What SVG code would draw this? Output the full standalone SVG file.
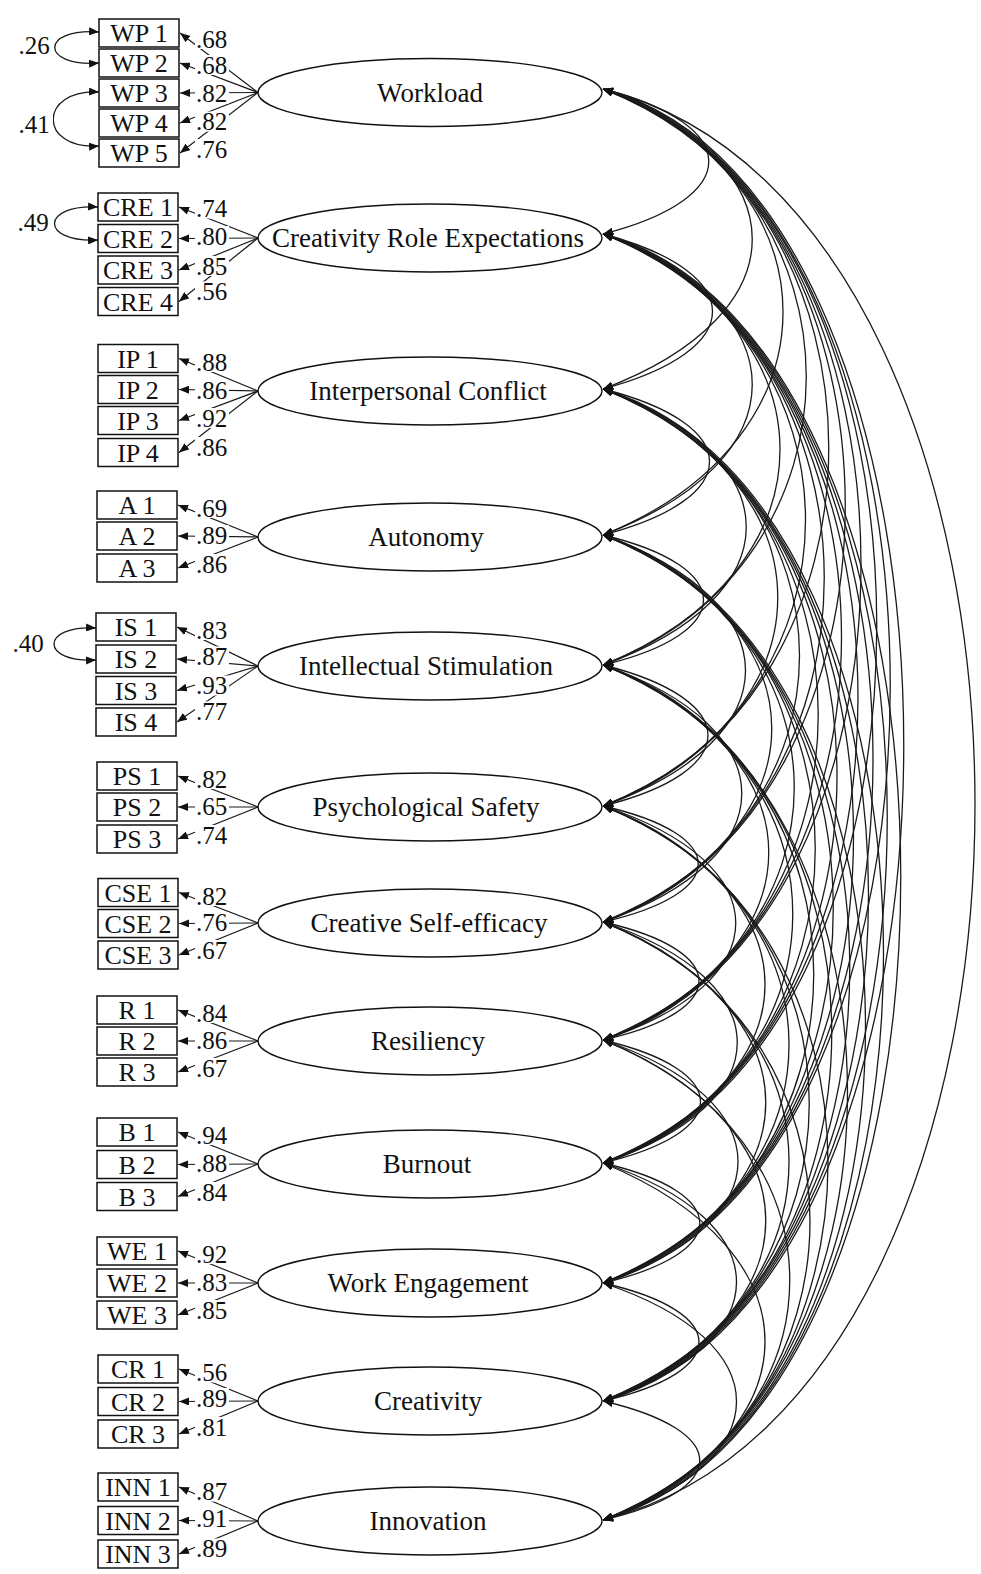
<svg xmlns="http://www.w3.org/2000/svg" width="981" height="1574" viewBox="0 0 981 1574">
  <defs>
    <marker id="ah" viewBox="0 0 10 8" refX="10" refY="4" markerWidth="10" markerHeight="8" markerUnits="userSpaceOnUse" orient="auto-start-reverse">
      <path d="M0,0 L10,4 L0,8 Z" fill="#111"/>
    </marker>
  </defs>
  <style>
    text { font-family: "Liberation Serif", "Times New Roman", serif; fill: #111; }
    .lat { font-size: 27px; text-anchor: middle; }
    .obs { font-size: 26px; text-anchor: middle; }
    .coef { font-size: 25px; }
    .lv { fill: #fff; stroke: #111; stroke-width: 1.4; }
    .ov { fill: #fff; stroke: #111; stroke-width: 1.5; }
    .cov { fill: none; stroke: #1a1a1a; stroke-width: 1.3; marker-start: url(#ah); marker-end: url(#ah); }
    .load { fill: none; stroke: #1a1a1a; stroke-width: 1.2; marker-end: url(#ah); }
    .bg { fill: #fff; }
  </style>
  <rect width="981" height="1574" fill="#fff"/>

  <!-- connectors: factor covariances, loadings, error covariances -->
  <g id="connectors">
    <g id="factor-covariances">
      <path class="cov" d="M603,89 C744,125 744,198 603,234"/>
      <path class="cov" d="M603,89 C802,164 802,314 603,389"/>
      <path class="cov" d="M603,89 C843,185 843,439 603,535"/>
      <path class="cov" d="M603,89 C874,192 874,562 603,665"/>
      <path class="cov" d="M603,89 C904,197 904,698 603,806"/>
      <path class="cov" d="M603,89 C926,199 926,812 603,922"/>
      <path class="cov" d="M603,89 C947,200 947,929 603,1040"/>
      <path class="cov" d="M603,89 C968,200 968,1052 603,1163"/>
      <path class="cov" d="M603,89 C986,199 986,1173 603,1283"/>
      <path class="cov" d="M603,89 C1004,196 1004,1294 603,1401"/>
      <path class="cov" d="M603,89 C1099,213 1099,1396 603,1520"/>

      <path class="cov" d="M603,234 C749,273 749,350 603,389"/>
      <path class="cov" d="M603,234 C802,309 802,460 603,535"/>
      <path class="cov" d="M603,234 C839,329 839,570 603,665"/>
      <path class="cov" d="M603,234 C873,337 873,703 603,806"/>
      <path class="cov" d="M603,234 C898,341 898,815 603,922"/>
      <path class="cov" d="M603,234 C921,344 921,930 603,1040"/>
      <path class="cov" d="M603,234 C943,345 943,1052 603,1163"/>
      <path class="cov" d="M603,234 C963,345 963,1172 603,1283"/>
      <path class="cov" d="M603,234 C982,344 982,1291 603,1401"/>
      <path class="cov" d="M603,234 C1000,342 1000,1412 603,1520"/>

      <path class="cov" d="M603,389 C745,425 745,498 603,535"/>
      <path class="cov" d="M603,389 C794,458 794,596 603,665"/>
      <path class="cov" d="M603,389 C836,483 836,712 603,806"/>
      <path class="cov" d="M603,389 C865,490 865,821 603,922"/>
      <path class="cov" d="M603,389 C890,495 890,934 603,1040"/>
      <path class="cov" d="M603,389 C915,498 915,1054 603,1163"/>
      <path class="cov" d="M603,389 C937,500 937,1172 603,1283"/>
      <path class="cov" d="M603,389 C957,500 957,1290 603,1401"/>
      <path class="cov" d="M603,389 C977,499 977,1410 603,1520"/>

      <path class="cov" d="M603,535 C737,567 737,633 603,665"/>
      <path class="cov" d="M603,535 C793,603 793,738 603,806"/>
      <path class="cov" d="M603,535 C828,627 828,830 603,922"/>
      <path class="cov" d="M603,535 C858,635 858,940 603,1040"/>
      <path class="cov" d="M603,535 C886,640 886,1058 603,1163"/>
      <path class="cov" d="M603,535 C910,644 910,1174 603,1283"/>
      <path class="cov" d="M603,535 C932,646 932,1290 603,1401"/>
      <path class="cov" d="M603,535 C953,646 953,1409 603,1520"/>

      <path class="cov" d="M603,665 C743,700 743,771 603,806"/>
      <path class="cov" d="M603,665 C788,729 788,858 603,922"/>
      <path class="cov" d="M603,665 C824,756 824,949 603,1040"/>
      <path class="cov" d="M603,665 C856,764 856,1064 603,1163"/>
      <path class="cov" d="M603,665 C884,770 884,1178 603,1283"/>
      <path class="cov" d="M603,665 C908,773 908,1293 603,1401"/>
      <path class="cov" d="M603,665 C929,775 929,1410 603,1520"/>

      <path class="cov" d="M603,806 C730,835 730,893 603,922"/>
      <path class="cov" d="M603,806 C780,864 780,982 603,1040"/>
      <path class="cov" d="M603,806 C819,895 819,1074 603,1163"/>
      <path class="cov" d="M603,806 C851,904 851,1185 603,1283"/>
      <path class="cov" d="M603,806 C878,910 878,1297 603,1401"/>
      <path class="cov" d="M603,806 C903,914 903,1412 603,1520"/>

      <path class="cov" d="M603,922 C731,951 731,1011 603,1040"/>
      <path class="cov" d="M603,922 C782,982 782,1103 603,1163"/>
      <path class="cov" d="M603,922 C820,1012 820,1193 603,1283"/>
      <path class="cov" d="M603,922 C851,1020 851,1303 603,1401"/>
      <path class="cov" d="M603,922 C879,1026 879,1416 603,1520"/>

      <path class="cov" d="M603,1040 C733,1071 733,1132 603,1163"/>
      <path class="cov" d="M603,1040 C783,1101 783,1222 603,1283"/>
      <path class="cov" d="M603,1040 C820,1130 820,1311 603,1401"/>
      <path class="cov" d="M603,1040 C852,1138 852,1422 603,1520"/>

      <path class="cov" d="M603,1163 C732,1193 732,1253 603,1283"/>
      <path class="cov" d="M603,1163 C781,1222 781,1342 603,1401"/>
      <path class="cov" d="M603,1163 C819,1252 819,1431 603,1520"/>

      <path class="cov" d="M603,1283 C731,1312 731,1372 603,1401"/>
      <path class="cov" d="M603,1283 C781,1342 781,1461 603,1520"/>

      <path class="cov" d="M603,1401 C732,1431 732,1490 603,1520"/>
    </g>

    <g id="loadings">
      <path class="load" d="M258,92.5 L180,33"/>
      <path class="load" d="M258,92.5 L180,63"/>
      <path class="load" d="M258,92.5 L180,93"/>
      <path class="load" d="M258,92.5 L180,123"/>
      <path class="load" d="M258,92.5 L180,153"/>

      <path class="load" d="M258,238 L179,207"/>
      <path class="load" d="M258,238 L179,238.5"/>
      <path class="load" d="M258,238 L179,270"/>
      <path class="load" d="M258,238 L179,301.5"/>

      <path class="load" d="M258,391 L179,358.5"/>
      <path class="load" d="M258,391 L179,389.5"/>
      <path class="load" d="M258,391 L179,420.5"/>
      <path class="load" d="M258,391 L179,452.5"/>

      <path class="load" d="M258,537 L178,505"/>
      <path class="load" d="M258,537 L178,536"/>
      <path class="load" d="M258,537 L178,568"/>

      <path class="load" d="M258,666 L177,627"/>
      <path class="load" d="M258,666 L177,659"/>
      <path class="load" d="M258,666 L177,690.5"/>
      <path class="load" d="M258,666 L177,722"/>

      <path class="load" d="M258,807 L178,776"/>
      <path class="load" d="M258,807 L178,807"/>
      <path class="load" d="M258,807 L178,839"/>

      <path class="load" d="M258,923 L179,892.5"/>
      <path class="load" d="M258,923 L179,923.5"/>
      <path class="load" d="M258,923 L179,955"/>

      <path class="load" d="M258,1041 L178,1010"/>
      <path class="load" d="M258,1041 L178,1041"/>
      <path class="load" d="M258,1041 L178,1072"/>

      <path class="load" d="M258,1164 L178,1132"/>
      <path class="load" d="M258,1164 L178,1164.5"/>
      <path class="load" d="M258,1164 L178,1196.5"/>

      <path class="load" d="M258,1283 L178,1251"/>
      <path class="load" d="M258,1283 L178,1283"/>
      <path class="load" d="M258,1283 L178,1315"/>

      <path class="load" d="M258,1401 L179,1369"/>
      <path class="load" d="M258,1401 L179,1401.5"/>
      <path class="load" d="M258,1401 L179,1434"/>

      <path class="load" d="M258,1521 L179,1487"/>
      <path class="load" d="M258,1521 L179,1520.5"/>
      <path class="load" d="M258,1521 L179,1554"/>
    </g>

    <g id="error-covariances">
      <path class="cov" d="M99,32 C40,28 40,67 99,63"/>
      <path class="cov" d="M99,92 C38,89 38,150 99,146"/>
      <path class="cov" d="M98,207 C40,204 40,243 98,240"/>
      <path class="cov" d="M96,628 C40,625 40,663 96,660"/>
    </g>

    <!-- coefficient labels sit on a white patch over the lines -->
    <g id="loading-labels">
      <rect class="bg" x="195" y="29" width="34" height="20"/><text class="coef" x="196" y="47.5">.68</text>
      <rect class="bg" x="195" y="55" width="34" height="20"/><text class="coef" x="196" y="73.5">.68</text>
      <rect class="bg" x="195" y="83.5" width="34" height="20"/><text class="coef" x="196" y="102">.82</text>
      <rect class="bg" x="195" y="111.5" width="34" height="20"/><text class="coef" x="196" y="130">.82</text>
      <rect class="bg" x="195" y="139" width="34" height="20"/><text class="coef" x="196" y="157.5">.76</text>

      <rect class="bg" x="195" y="198.5" width="34" height="20"/><text class="coef" x="196" y="217">.74</text>
      <rect class="bg" x="195" y="226" width="34" height="20"/><text class="coef" x="196" y="244.5">.80</text>
      <rect class="bg" x="195" y="256" width="34" height="20"/><text class="coef" x="196" y="274.5">.85</text>
      <rect class="bg" x="195" y="281.5" width="34" height="20"/><text class="coef" x="196" y="300">.56</text>

      <rect class="bg" x="195" y="352" width="34" height="20"/><text class="coef" x="196" y="370.5">.88</text>
      <rect class="bg" x="195" y="380" width="34" height="20"/><text class="coef" x="196" y="398.5">.86</text>
      <rect class="bg" x="195" y="408" width="34" height="20"/><text class="coef" x="196" y="426.5">.92</text>
      <rect class="bg" x="195" y="437" width="34" height="20"/><text class="coef" x="196" y="455.5">.86</text>

      <rect class="bg" x="195" y="498" width="34" height="20"/><text class="coef" x="196" y="516.5">.69</text>
      <rect class="bg" x="195" y="525" width="34" height="20"/><text class="coef" x="196" y="543.5">.89</text>
      <rect class="bg" x="195" y="554" width="34" height="20"/><text class="coef" x="196" y="572.5">.86</text>

      <rect class="bg" x="195" y="620" width="34" height="20"/><text class="coef" x="196" y="638.5">.83</text>
      <rect class="bg" x="195" y="646.5" width="34" height="20"/><text class="coef" x="196" y="665">.87</text>
      <rect class="bg" x="195" y="675.5" width="34" height="20"/><text class="coef" x="196" y="694">.93</text>
      <rect class="bg" x="195" y="701.5" width="34" height="20"/><text class="coef" x="196" y="720">.77</text>

      <rect class="bg" x="195" y="769" width="34" height="20"/><text class="coef" x="196" y="787.5">.82</text>
      <rect class="bg" x="195" y="796" width="34" height="20"/><text class="coef" x="196" y="814.5">.65</text>
      <rect class="bg" x="195" y="825" width="34" height="20"/><text class="coef" x="196" y="843.5">.74</text>

      <rect class="bg" x="195" y="886" width="34" height="20"/><text class="coef" x="196" y="904.5">.82</text>
      <rect class="bg" x="195" y="912" width="34" height="20"/><text class="coef" x="196" y="930.5">.76</text>
      <rect class="bg" x="195" y="940" width="34" height="20"/><text class="coef" x="196" y="958.5">.67</text>

      <rect class="bg" x="195" y="1003" width="34" height="20"/><text class="coef" x="196" y="1021.5">.84</text>
      <rect class="bg" x="195" y="1030" width="34" height="20"/><text class="coef" x="196" y="1048.5">.86</text>
      <rect class="bg" x="195" y="1058" width="34" height="20"/><text class="coef" x="196" y="1076.5">.67</text>

      <rect class="bg" x="195" y="1125" width="34" height="20"/><text class="coef" x="196" y="1143.5">.94</text>
      <rect class="bg" x="195" y="1153" width="34" height="20"/><text class="coef" x="196" y="1171.5">.88</text>
      <rect class="bg" x="195" y="1182" width="34" height="20"/><text class="coef" x="196" y="1200.5">.84</text>

      <rect class="bg" x="195" y="1244" width="34" height="20"/><text class="coef" x="196" y="1262.5">.92</text>
      <rect class="bg" x="195" y="1272" width="34" height="20"/><text class="coef" x="196" y="1290.5">.83</text>
      <rect class="bg" x="195" y="1300" width="34" height="20"/><text class="coef" x="196" y="1318.5">.85</text>

      <rect class="bg" x="195" y="1362.5" width="34" height="20"/><text class="coef" x="196" y="1381">.56</text>
      <rect class="bg" x="195" y="1388" width="34" height="20"/><text class="coef" x="196" y="1406.5">.89</text>
      <rect class="bg" x="195" y="1417" width="34" height="20"/><text class="coef" x="196" y="1435.5">.81</text>

      <rect class="bg" x="195" y="1481.5" width="34" height="20"/><text class="coef" x="196" y="1500">.87</text>
      <rect class="bg" x="195" y="1508.5" width="34" height="20"/><text class="coef" x="196" y="1527">.91</text>
      <rect class="bg" x="195" y="1538.5" width="34" height="20"/><text class="coef" x="196" y="1557">.89</text>
    </g>

    <g id="error-covariance-labels">
      <rect class="bg" x="15" y="34" width="38" height="21"/><text class="coef" x="34" y="53.5" text-anchor="middle">.26</text>
      <rect class="bg" x="15" y="113" width="38" height="21"/><text class="coef" x="34" y="132.5" text-anchor="middle">.41</text>
      <rect class="bg" x="14" y="212" width="38" height="21"/><text class="coef" x="33" y="231" text-anchor="middle">.49</text>
      <rect class="bg" x="9" y="632" width="38" height="21"/><text class="coef" x="28" y="651.5" text-anchor="middle">.40</text>
    </g>
  </g>

  <!-- latent factors -->
  <g id="workload"><ellipse class="lv" cx="430" cy="92.5" rx="172" ry="34"/><text class="lat" x="430" y="101.5">Workload</text></g>
  <g id="creativity-role-expectations"><ellipse class="lv" cx="430" cy="238" rx="172" ry="34"/><text class="lat" x="428" y="247">Creativity Role Expectations</text></g>
  <g id="interpersonal-conflict"><ellipse class="lv" cx="430" cy="391" rx="172" ry="34"/><text class="lat" x="428" y="400">Interpersonal Conflict</text></g>
  <g id="autonomy"><ellipse class="lv" cx="430" cy="537" rx="172" ry="34"/><text class="lat" x="426" y="546">Autonomy</text></g>
  <g id="intellectual-stimulation"><ellipse class="lv" cx="430" cy="666" rx="172" ry="34"/><text class="lat" x="426" y="675">Intellectual Stimulation</text></g>
  <g id="psychological-safety"><ellipse class="lv" cx="430" cy="807" rx="172" ry="34"/><text class="lat" x="426" y="816">Psychological Safety</text></g>
  <g id="creative-self-efficacy"><ellipse class="lv" cx="430" cy="923" rx="172" ry="34"/><text class="lat" x="429" y="932">Creative Self-efficacy</text></g>
  <g id="resiliency"><ellipse class="lv" cx="430" cy="1041" rx="172" ry="34"/><text class="lat" x="428" y="1050">Resiliency</text></g>
  <g id="burnout"><ellipse class="lv" cx="430" cy="1164" rx="172" ry="34"/><text class="lat" x="427" y="1173">Burnout</text></g>
  <g id="work-engagement"><ellipse class="lv" cx="430" cy="1283" rx="172" ry="34"/><text class="lat" x="428" y="1292">Work Engagement</text></g>
  <g id="creativity"><ellipse class="lv" cx="430" cy="1401" rx="172" ry="34"/><text class="lat" x="428" y="1410">Creativity</text></g>
  <g id="innovation"><ellipse class="lv" cx="430" cy="1521" rx="172" ry="34"/><text class="lat" x="428" y="1530">Innovation</text></g>

  <!-- observed indicators -->
  <g id="wp1"><rect class="ov" x="99" y="19" width="80" height="28"/><text class="obs" x="139" y="42">WP 1</text></g>
  <g id="wp2"><rect class="ov" x="99" y="49" width="80" height="28"/><text class="obs" x="139" y="72">WP 2</text></g>
  <g id="wp3"><rect class="ov" x="99" y="79" width="80" height="28"/><text class="obs" x="139" y="102">WP 3</text></g>
  <g id="wp4"><rect class="ov" x="99" y="109" width="80" height="28"/><text class="obs" x="139" y="132">WP 4</text></g>
  <g id="wp5"><rect class="ov" x="99" y="139" width="80" height="28"/><text class="obs" x="139" y="162">WP 5</text></g>

  <g id="cre1"><rect class="ov" x="98" y="193" width="80" height="28"/><text class="obs" x="138" y="216">CRE 1</text></g>
  <g id="cre2"><rect class="ov" x="98" y="224.5" width="80" height="28"/><text class="obs" x="138" y="247.5">CRE 2</text></g>
  <g id="cre3"><rect class="ov" x="98" y="256" width="80" height="28"/><text class="obs" x="138" y="279">CRE 3</text></g>
  <g id="cre4"><rect class="ov" x="98" y="287.5" width="80" height="28"/><text class="obs" x="138" y="310.5">CRE 4</text></g>

  <g id="ip1"><rect class="ov" x="98" y="344.5" width="80" height="28"/><text class="obs" x="138" y="367.5">IP 1</text></g>
  <g id="ip2"><rect class="ov" x="98" y="375.5" width="80" height="28"/><text class="obs" x="138" y="398.5">IP 2</text></g>
  <g id="ip3"><rect class="ov" x="98" y="406.5" width="80" height="28"/><text class="obs" x="138" y="429.5">IP 3</text></g>
  <g id="ip4"><rect class="ov" x="98" y="438.5" width="80" height="28"/><text class="obs" x="138" y="461.5">IP 4</text></g>

  <g id="a1"><rect class="ov" x="97" y="491" width="80" height="28"/><text class="obs" x="137" y="514">A 1</text></g>
  <g id="a2"><rect class="ov" x="97" y="522" width="80" height="28"/><text class="obs" x="137" y="545">A 2</text></g>
  <g id="a3"><rect class="ov" x="97" y="554" width="80" height="28"/><text class="obs" x="137" y="577">A 3</text></g>

  <g id="is1"><rect class="ov" x="96" y="613" width="80" height="28"/><text class="obs" x="136" y="636">IS 1</text></g>
  <g id="is2"><rect class="ov" x="96" y="645" width="80" height="28"/><text class="obs" x="136" y="668">IS 2</text></g>
  <g id="is3"><rect class="ov" x="96" y="676.5" width="80" height="28"/><text class="obs" x="136" y="699.5">IS 3</text></g>
  <g id="is4"><rect class="ov" x="96" y="708" width="80" height="28"/><text class="obs" x="136" y="731">IS 4</text></g>

  <g id="ps1"><rect class="ov" x="97" y="762" width="80" height="28"/><text class="obs" x="137" y="785">PS 1</text></g>
  <g id="ps2"><rect class="ov" x="97" y="793" width="80" height="28"/><text class="obs" x="137" y="816">PS 2</text></g>
  <g id="ps3"><rect class="ov" x="97" y="825" width="80" height="28"/><text class="obs" x="137" y="848">PS 3</text></g>

  <g id="cse1"><rect class="ov" x="98" y="878.5" width="80" height="28"/><text class="obs" x="138" y="901.5">CSE 1</text></g>
  <g id="cse2"><rect class="ov" x="98" y="909.5" width="80" height="28"/><text class="obs" x="138" y="932.5">CSE 2</text></g>
  <g id="cse3"><rect class="ov" x="98" y="941" width="80" height="28"/><text class="obs" x="138" y="964">CSE 3</text></g>

  <g id="r1"><rect class="ov" x="97" y="996" width="80" height="28"/><text class="obs" x="137" y="1019">R 1</text></g>
  <g id="r2"><rect class="ov" x="97" y="1027" width="80" height="28"/><text class="obs" x="137" y="1050">R 2</text></g>
  <g id="r3"><rect class="ov" x="97" y="1058" width="80" height="28"/><text class="obs" x="137" y="1081">R 3</text></g>

  <g id="b1"><rect class="ov" x="97" y="1118" width="80" height="28"/><text class="obs" x="137" y="1141">B 1</text></g>
  <g id="b2"><rect class="ov" x="97" y="1150.5" width="80" height="28"/><text class="obs" x="137" y="1173.5">B 2</text></g>
  <g id="b3"><rect class="ov" x="97" y="1182.5" width="80" height="28"/><text class="obs" x="137" y="1205.5">B 3</text></g>

  <g id="we1"><rect class="ov" x="97" y="1237" width="80" height="28"/><text class="obs" x="137" y="1260">WE 1</text></g>
  <g id="we2"><rect class="ov" x="97" y="1269" width="80" height="28"/><text class="obs" x="137" y="1292">WE 2</text></g>
  <g id="we3"><rect class="ov" x="97" y="1301" width="80" height="28"/><text class="obs" x="137" y="1324">WE 3</text></g>

  <g id="cr1"><rect class="ov" x="98" y="1355" width="80" height="28"/><text class="obs" x="138" y="1378">CR 1</text></g>
  <g id="cr2"><rect class="ov" x="98" y="1387.5" width="80" height="28"/><text class="obs" x="138" y="1410.5">CR 2</text></g>
  <g id="cr3"><rect class="ov" x="98" y="1420" width="80" height="28"/><text class="obs" x="138" y="1443">CR 3</text></g>

  <g id="inn1"><rect class="ov" x="98" y="1473" width="80" height="28"/><text class="obs" x="138" y="1496">INN 1</text></g>
  <g id="inn2"><rect class="ov" x="98" y="1506.5" width="80" height="28"/><text class="obs" x="138" y="1529.5">INN 2</text></g>
  <g id="inn3"><rect class="ov" x="98" y="1540" width="80" height="28"/><text class="obs" x="138" y="1563">INN 3</text></g>
</svg>
